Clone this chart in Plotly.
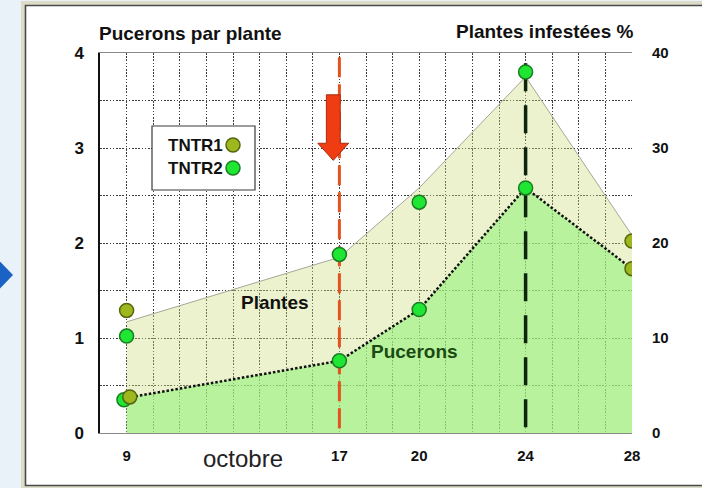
import plotly.graph_objects as go

# ---------------- data ----------------
x_tick_days = [9, 17, 20, 24, 28]
x_tick_labels = ["9", "17", "20", "24", "28"]

# Plantes infestées (%) - area (right axis)
plant_area_days = [9, 17, 20, 24, 28]
plant_area_pct = [11.7, 18.5, 25.8, 37.5, 20.8]

# Pucerons par plante - area (left axis)
aphid_area_days = [9, 17, 20, 24, 28]
aphid_area_per_plant = [0.37, 0.76, 1.30, 2.58, 1.73]

# TNTR1 points
tntr1_plant_days = [9, 28]
tntr1_plant_pct = [12.9, 20.2]
tntr1_aphid_days = [9.12, 28]
tntr1_aphid = [0.38, 1.73]

# TNTR2 points
tntr2_plant_days = [9, 17, 20, 24]
tntr2_plant_pct = [10.2, 18.8, 24.3, 38.0]
tntr2_aphid_days = [8.9, 17, 20, 24]
tntr2_aphid = [0.35, 0.76, 1.30, 2.58]

treatment_day = 17
peak_day = 24

left_ticks = [0, 1, 2, 3, 4]
right_ticks = [0, 10, 20, 30, 40]

# ---------------- geometry helpers ----------------
W, H = 702, 488
ML, MR, MT, MB = 100, 70, 53, 55
PW, PH = W - ML - MR, H - MT - MB


def px(xp):
    return (xp - ML) / PW


def py(yp):
    return (H - MB - yp) / PH


FONT = "Liberation Sans, Arial, sans-serif"
C1 = "#9cb81e"
C1L = "#55660f"
C2 = "#1ee632"
C2L = "#1a7d22"

fig = go.Figure()

# plantes area (main y: right axis 0-40)
fig.add_trace(go.Scatter(
    x=plant_area_days, y=plant_area_pct, mode="lines", fill="tozeroy",
    line=dict(color="#a3a894", width=1),
    fillcolor="rgba(205,222,125,0.38)", yaxis="y", hoverinfo="skip"))

# pucerons area (y2: left axis 0-4)
fig.add_trace(go.Scatter(
    x=aphid_area_days, y=aphid_area_per_plant, mode="lines", fill="tozeroy",
    line=dict(color="#101010", width=2.5, dash="2.5px,2px"),
    fillcolor="rgba(150,242,125,0.6)", yaxis="y2", hoverinfo="skip"))

# vertical reference lines (y2)
fig.add_trace(go.Scatter(
    x=[treatment_day, treatment_day], y=[0.05, 4], mode="lines",
    line=dict(color="#e5521f", width=3, dash="20px,7px"), yaxis="y2"))
fig.add_trace(go.Scatter(
    x=[peak_day, peak_day], y=[0.06, 4], mode="lines",
    line=dict(color="#0d240d", width=3.5, dash="28px,14px"), yaxis="y2"))

mk1 = dict(size=14, color=C1, line=dict(color=C1L, width=1.5))
mk2 = dict(size=14, color=C2, line=dict(color=C2L, width=1.5))

# plant points (y3 hidden 0-40)
fig.add_trace(go.Scatter(x=tntr2_plant_days, y=tntr2_plant_pct, mode="markers",
                         marker=mk2, yaxis="y3", name="TNTR2"))
fig.add_trace(go.Scatter(x=tntr1_plant_days, y=tntr1_plant_pct, mode="markers",
                         marker=mk1, yaxis="y3", name="TNTR1"))
# aphid points (y4 hidden 0-4)
fig.add_trace(go.Scatter(x=tntr2_aphid_days, y=tntr2_aphid, mode="markers",
                         marker=mk2, yaxis="y4", name="TNTR2"))
fig.add_trace(go.Scatter(x=tntr1_aphid_days, y=tntr1_aphid, mode="markers",
                         marker=mk1, yaxis="y4", name="TNTR1"))

grid = dict(showgrid=True, gridcolor="#3c3c3c", gridwidth=1, griddash="1.6px,1.6px")

x_vals = list(range(8, 29))
x_text = [x_tick_labels[x_tick_days.index(d)] if d in x_tick_days else "" for d in x_vals]
y_vals = list(range(0, 41, 5))
y_text = [str(v) if v in right_ticks else "" for v in y_vals]

fig.update_layout(
    width=W, height=H,
    margin=dict(l=ML, r=MR, t=MT, b=MB),
    paper_bgcolor="#eaf2f9",
    plot_bgcolor="white",
    showlegend=False,
    font=dict(family=FONT, color="#111"),
    xaxis=dict(range=[8, 28], tickmode="array", tickvals=x_vals, ticktext=x_text,
               ticks="", ticklabelstandoff=9, zeroline=False,
               tickfont=dict(size=15, weight="bold", color="#111"),
               showline=True, linecolor="#8a8a8a", linewidth=1, mirror=True,
               **grid),
    yaxis=dict(range=[0, 40], side="right", tickmode="array", tickvals=y_vals,
               ticktext=y_text, ticks="", ticklabelstandoff=19, zeroline=False,
               tickfont=dict(size=15, weight="bold", color="#111"), **grid),
    yaxis2=dict(range=[0, 4], overlaying="y", side="left", tickmode="array",
                tickvals=left_ticks, ticktext=[str(v) for v in left_ticks],
                ticks="", ticklabelstandoff=11, showgrid=False, zeroline=False,
                showline=True, linecolor="#111", linewidth=1.5,
                tickfont=dict(size=17, weight="bold", color="#111")),
    yaxis3=dict(range=[0, 40], overlaying="y", visible=False),
    yaxis4=dict(range=[0, 4], overlaying="y", visible=False),
)

shapes = []
# outer frame
shapes.append(dict(type="rect", xref="paper", yref="paper", layer="below",
                   x0=px(21), x1=px(712), y0=py(490), y1=py(1),
                   fillcolor="#dcdcc8", line=dict(width=0)))
shapes.append(dict(type="rect", xref="paper", yref="paper", layer="below",
                   x0=px(25.5), x1=px(712), y0=py(485.5), y1=py(5.5),
                   fillcolor="white", line=dict(color="#4a4a4a", width=1.6)))
# blue chevron at left
shapes.append(dict(type="path", xref="paper", yref="paper", layer="below",
                   path=f"M {px(-8)},{py(253)} L {px(13)},{py(275)} L {px(-8)},{py(297)} Z",
                   fillcolor="#1a63c4", line=dict(width=0)))
# red arrow (treatment)
ax_c, bh, hh = 16.77, 0.26, 0.58
ytop, yhb, ytip = 3.56, 3.05, 2.87
shapes.append(dict(type="path", xref="x", yref="y2", layer="above",
                   path=(f"M {ax_c-bh},{ytop} L {ax_c+bh},{ytop} L {ax_c+bh},{yhb} "
                         f"L {ax_c+hh},{yhb} L {ax_c},{ytip} L {ax_c-hh},{yhb} "
                         f"L {ax_c-bh},{yhb} Z"),
                   fillcolor="#f03c12", line=dict(color="#a82a0c", width=1)))
# legend box
shapes.append(dict(type="rect", xref="paper", yref="paper", layer="above",
                   x0=px(152), x1=px(255), y0=py(190), y1=py(126),
                   fillcolor="white", line=dict(color="#3a3a3a", width=1.2)))
for yc, fc, lc in [(145, C1, C1L), (168, C2, C2L)]:
    shapes.append(dict(type="circle", xref="paper", yref="paper", layer="above",
                       x0=px(226), x1=px(240), y0=py(yc + 7), y1=py(yc - 7),
                       fillcolor=fc, line=dict(color=lc, width=1.5)))
fig.update_layout(shapes=shapes)


def ann(text, x, y, size, bold=True, color="#111", xanchor="center"):
    fig.add_annotation(text=text, x=px(x), y=py(y), xref="paper", yref="paper",
                       showarrow=False, xanchor=xanchor, yanchor="middle",
                       font=dict(family=FONT, size=size, color=color,
                                 weight="bold" if bold else "normal"))


ann("Pucerons par plante", 97, 33, 19, xanchor="left")
ann("Plantes infestées %", 636, 32, 19, xanchor="right")
ann("octobre", 243, 458, 24, bold=False, color="#222")
ann("Plantes", 275, 302, 19)
ann("Pucerons", 414, 351, 19, color="#1b4a12")
ann("TNTR1", 225, 145, 17, xanchor="right")
ann("TNTR2", 225, 168, 17, xanchor="right")

fig.write_html("out.html", config={"displayModeBar": False},
               post_script="document.body.style.margin='0';document.body.style.overflow='hidden';")
